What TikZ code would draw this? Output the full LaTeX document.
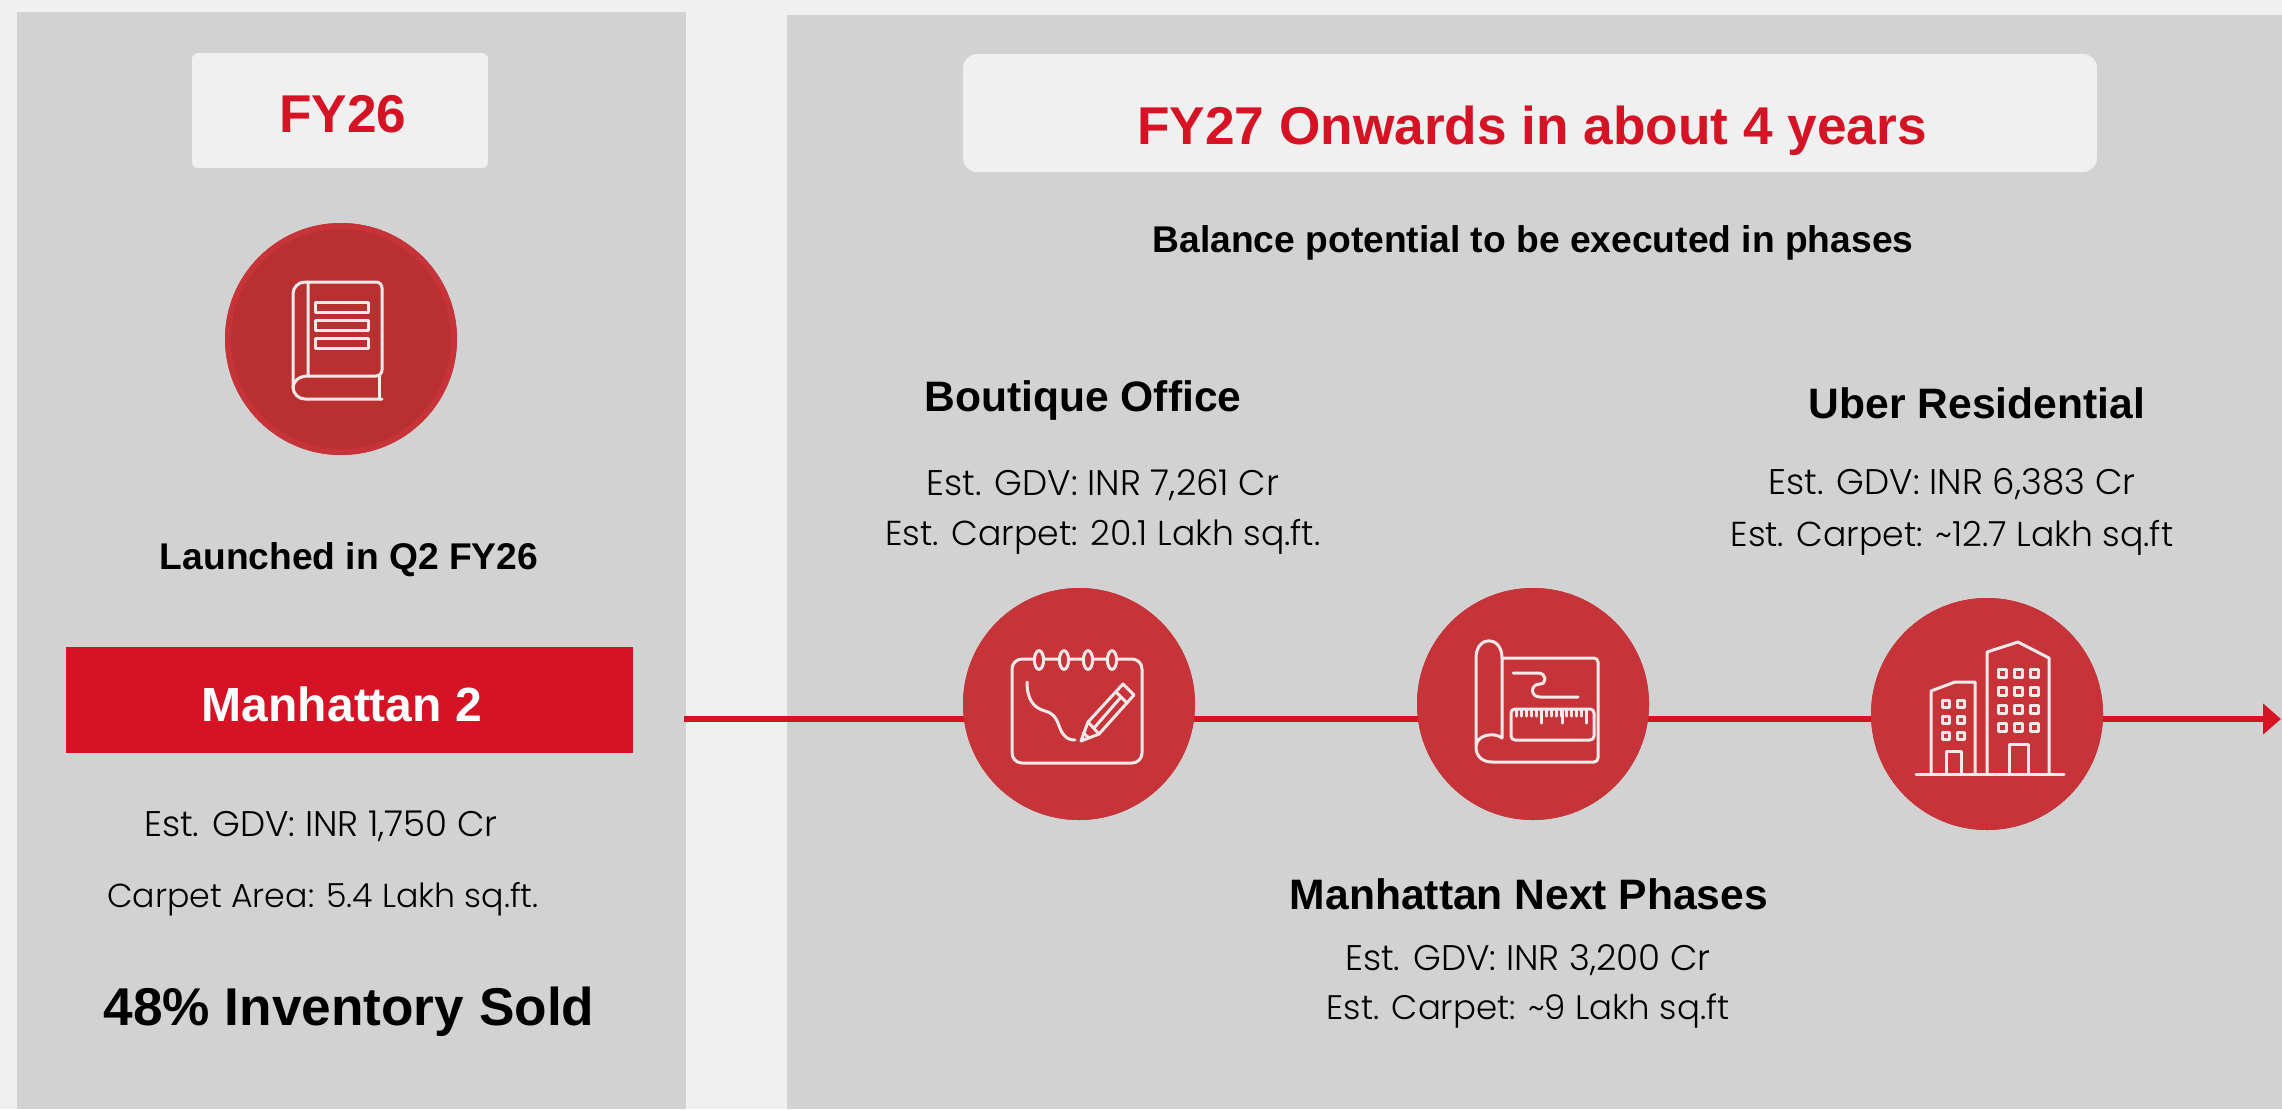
\documentclass[tikz,border=0pt]{standalone}
\usepackage{fontspec}
\setmainfont{Liberation Sans}
\newfontfamily\lightfont{Poppins Light}
\usepackage{tikz}
\usetikzlibrary{arrows.meta, positioning}
\definecolor{pagebg}{HTML}{F0F0F0}
\definecolor{panelbg}{HTML}{D2D2D2}
\definecolor{brandred}{HTML}{D51324}
\definecolor{discred}{HTML}{C63338}
\definecolor{bookred}{HTML}{B93030}
\definecolor{iconwhite}{HTML}{F7E9E9}

\begin{document}
\begin{tikzpicture}[x=0.5pt,y=-0.5pt,
 disc node/.style={circle,fill=discred,minimum size=116pt,inner sep=0pt},
 book node/.style={disc node,fill=bookred,draw=discred,line width=3pt,minimum size=113pt},
 head node/.style={font=\bfseries\fontsize{21.3}{24}\selectfont,text=black,inner sep=0pt},
 info node/.style={font=\lightfont\fontsize{17.3}{20}\selectfont,text=black,inner sep=0pt},
 gdv node/.style={font=\lightfont\fontsize{17.8}{20}\selectfont,text=black,inner sep=0pt},
 tag node/.style={fill=pagebg,inner sep=0pt},
 tag text/.style={text=brandred,font=\bfseries\fontsize{26.6}{30}\selectfont,inner sep=0pt},
 link/.style={draw=brandred,line width=3.3pt},
 icon/.style={draw=iconwhite,line width=1.5pt,line join=round,line cap=round}]
  \useasboundingbox (0,0) rectangle (2282,1109);
  \fill[pagebg] (0,0) rectangle (2282,1109);
  \fill[panelbg] (17,12) rectangle (686,1109);
  \fill[panelbg] (787,15) rectangle (2282,1109);

  \node[tag node,rounded corners=3pt,minimum width=148pt,minimum height=57.5pt] (fy26) at (340,110.5) {};
  \node[tag text] (fy26text) at (343,114) {FY26};
  \node[tag node,rounded corners=7pt,minimum width=567pt,minimum height=59pt] (fy27) at (1530,113) {};
  \node[tag text] (fy27text) at (1532,131) {FY27 Onwards in about 4 years};
  \node[head node,font=\bfseries\fontsize{18.6}{22}\selectfont] (balance) at (1533,243) {Balance potential to be executed in phases};

  \node[book node] (book) at (341,339) {};
  \node[head node,font=\bfseries\fontsize{18.6}{22}\selectfont] (launched) at (349,560) {Launched in Q2 FY26};
  \node[fill=brandred,minimum width=283.5pt,minimum height=53pt,inner sep=0pt] (bar) at (349.5,700) {};
  \node[text=white,font=\bfseries\fontsize{24}{28}\selectfont,inner sep=0pt] (bartext) at (342,704) {Manhattan 2};
  \node[gdv node] (gdv1) at (321,826) {Est. GDV: INR 1,750 Cr};
  \node[info node,font=\lightfont\fontsize{16.6}{20}\selectfont] (area1) at (323,899) {Carpet Area: 5.4 Lakh sq.ft.};
  \node[head node,font=\bfseries\fontsize{26.6}{30}\selectfont] (sold) at (349,1012) {48\% Inventory Sold};

  \node[disc node] (office) at (1079,704) {};
  \node[disc node] (plan) at (1533,704) {};
  \node[disc node] (city) at (1987,714) {};
  \coordinate (start) at (684,719);
  \coordinate (tip) at (2281,719);

  \node[head node] (officehead) at (1083,400) {Boutique Office};
  \node[gdv node] (gdv2) at (1103,485) {Est. GDV: INR 7,261 Cr};
  \node[info node] (area2) at (1103,537) {Est. Carpet: 20.1 Lakh sq.ft.};
  \node[head node] (cityhead) at (1977,403) {Uber Residential};
  \node[gdv node] (gdv3) at (1952,484) {Est. GDV: INR 6,383 Cr};
  \node[info node] (area3) at (1952,538) {Est. Carpet: \textasciitilde12.7 Lakh sq.ft};
  \node[head node] (planhead) at (1529,894) {Manhattan Next Phases};
  \node[gdv node] (gdv4) at (1528,960) {Est. GDV: INR 3,200 Cr};
  \node[info node,font=\lightfont\fontsize{17}{20}\selectfont] (area4) at (1528,1011) {Est. Carpet: \textasciitilde9 Lakh sq.ft};

  \foreach \s/\t in {start/office, office/plan, plan/city} {
   \path[link] (\s |- start) -- (\t |- start);}
  \draw[link,-{Triangle[length=9pt,width=15pt]}] (city.center |- tip) -- (tip);
  \foreach \s in {office, plan, city} {
   \node[disc node] at (\s) {};}
  \node[book node] at (book) {};

  % book
  \draw[icon,rounded corners=6pt] (308,282) -- (293,282) -- (293,399) -- (382,399);
  \draw[icon,rounded corners=3pt] (308,282) -- (382,282) -- (382,376) -- (308,376);
  \draw[icon] (308,282) -- (308,376) .. controls (298,376) and (293,382) .. (293,388);
  \draw[icon] (379,376) -- (379,399);
  \foreach \y in {302,320,338} {
   \draw[icon] (315,\y) rectangle (368,\y+10);}

  % notepad and pencil
  \draw[icon,rounded corners=5pt] (1012,659) rectangle (1142,763);
  \foreach \x in {1039,1064,1088,1112} {
   \draw[icon,fill=discred] (\x,660) ellipse (2.3pt and 4.7pt);}
  \draw[icon] (1027,682) .. controls (1027,700) and (1034,708) .. (1045,711)
   .. controls (1060,715) and (1057,728) .. (1064,735) .. controls (1067,739) and (1071,740) .. (1075,740);
  \draw[icon] (1081,741) -- (1088,722) -- (1123,684) -- (1134,695) -- (1099,734) -- cycle;
  \draw[icon] (1116,692) -- (1127,703);
  \draw[icon] (1094,728) -- (1121,697);
  \draw[icon] (1088,722) -- (1099,734);
  \draw[icon] (1083,733) -- (1088,737);

  % plan and ruler
  \draw[icon,rounded corners=2pt] (1502,658) -- (1598,658) -- (1598,762) -- (1492,762);
  \draw[icon] (1492,762) .. controls (1482,762) and (1476,756) .. (1476,747) -- (1476,658)
   .. controls (1476,635) and (1502,635) .. (1502,658) -- (1502,738)
   .. controls (1495,732) and (1476,734) .. (1476,747);
  \draw[icon] (1513,673) -- (1538,673) .. controls (1547,673) and (1547,684) .. (1540,684)
   .. controls (1530,684) and (1530,697) .. (1540,697) -- (1578,697);
  \draw[icon,rounded corners=2pt] (1511,709) rectangle (1594,740);
  \foreach \x in {1516,1521,1526,1531,1536,1546,1551,1556,1561,1566,1571,1576,1581,1586} {
   \draw[icon] (\x,710) -- (\x,716);}
  \foreach \x in {1541,1562,1586} {
   \draw[icon] (\x,710) -- (\x,723);}

  % buildings
  \draw[icon] (1916,774) -- (2064,774);
  \draw[icon] (1931,774) -- (1931,691) -- (1955,682) -- (1975,682) -- (1975,774);
  \draw[icon] (1946,774) -- (1946,751) -- (1961,751) -- (1961,774);
  \draw[icon] (1987,774) -- (1987,652) -- (2018,642) -- (2049,658) -- (2049,774);
  \draw[icon] (2009,774) -- (2009,744) -- (2028,744) -- (2028,774);
  \foreach \x in {1946,1961} {
   \foreach \y in {704,720,736} {
    \draw[icon] (\x-3.5,\y-3.5) rectangle (\x+3.5,\y+3.5);}}
  \foreach \x in {2002,2018,2034} {
   \foreach \y in {673,691,709,727} {
    \draw[icon] (\x-4,\y-4) rectangle (\x+4,\y+4);}}
\end{tikzpicture}
\end{document}
